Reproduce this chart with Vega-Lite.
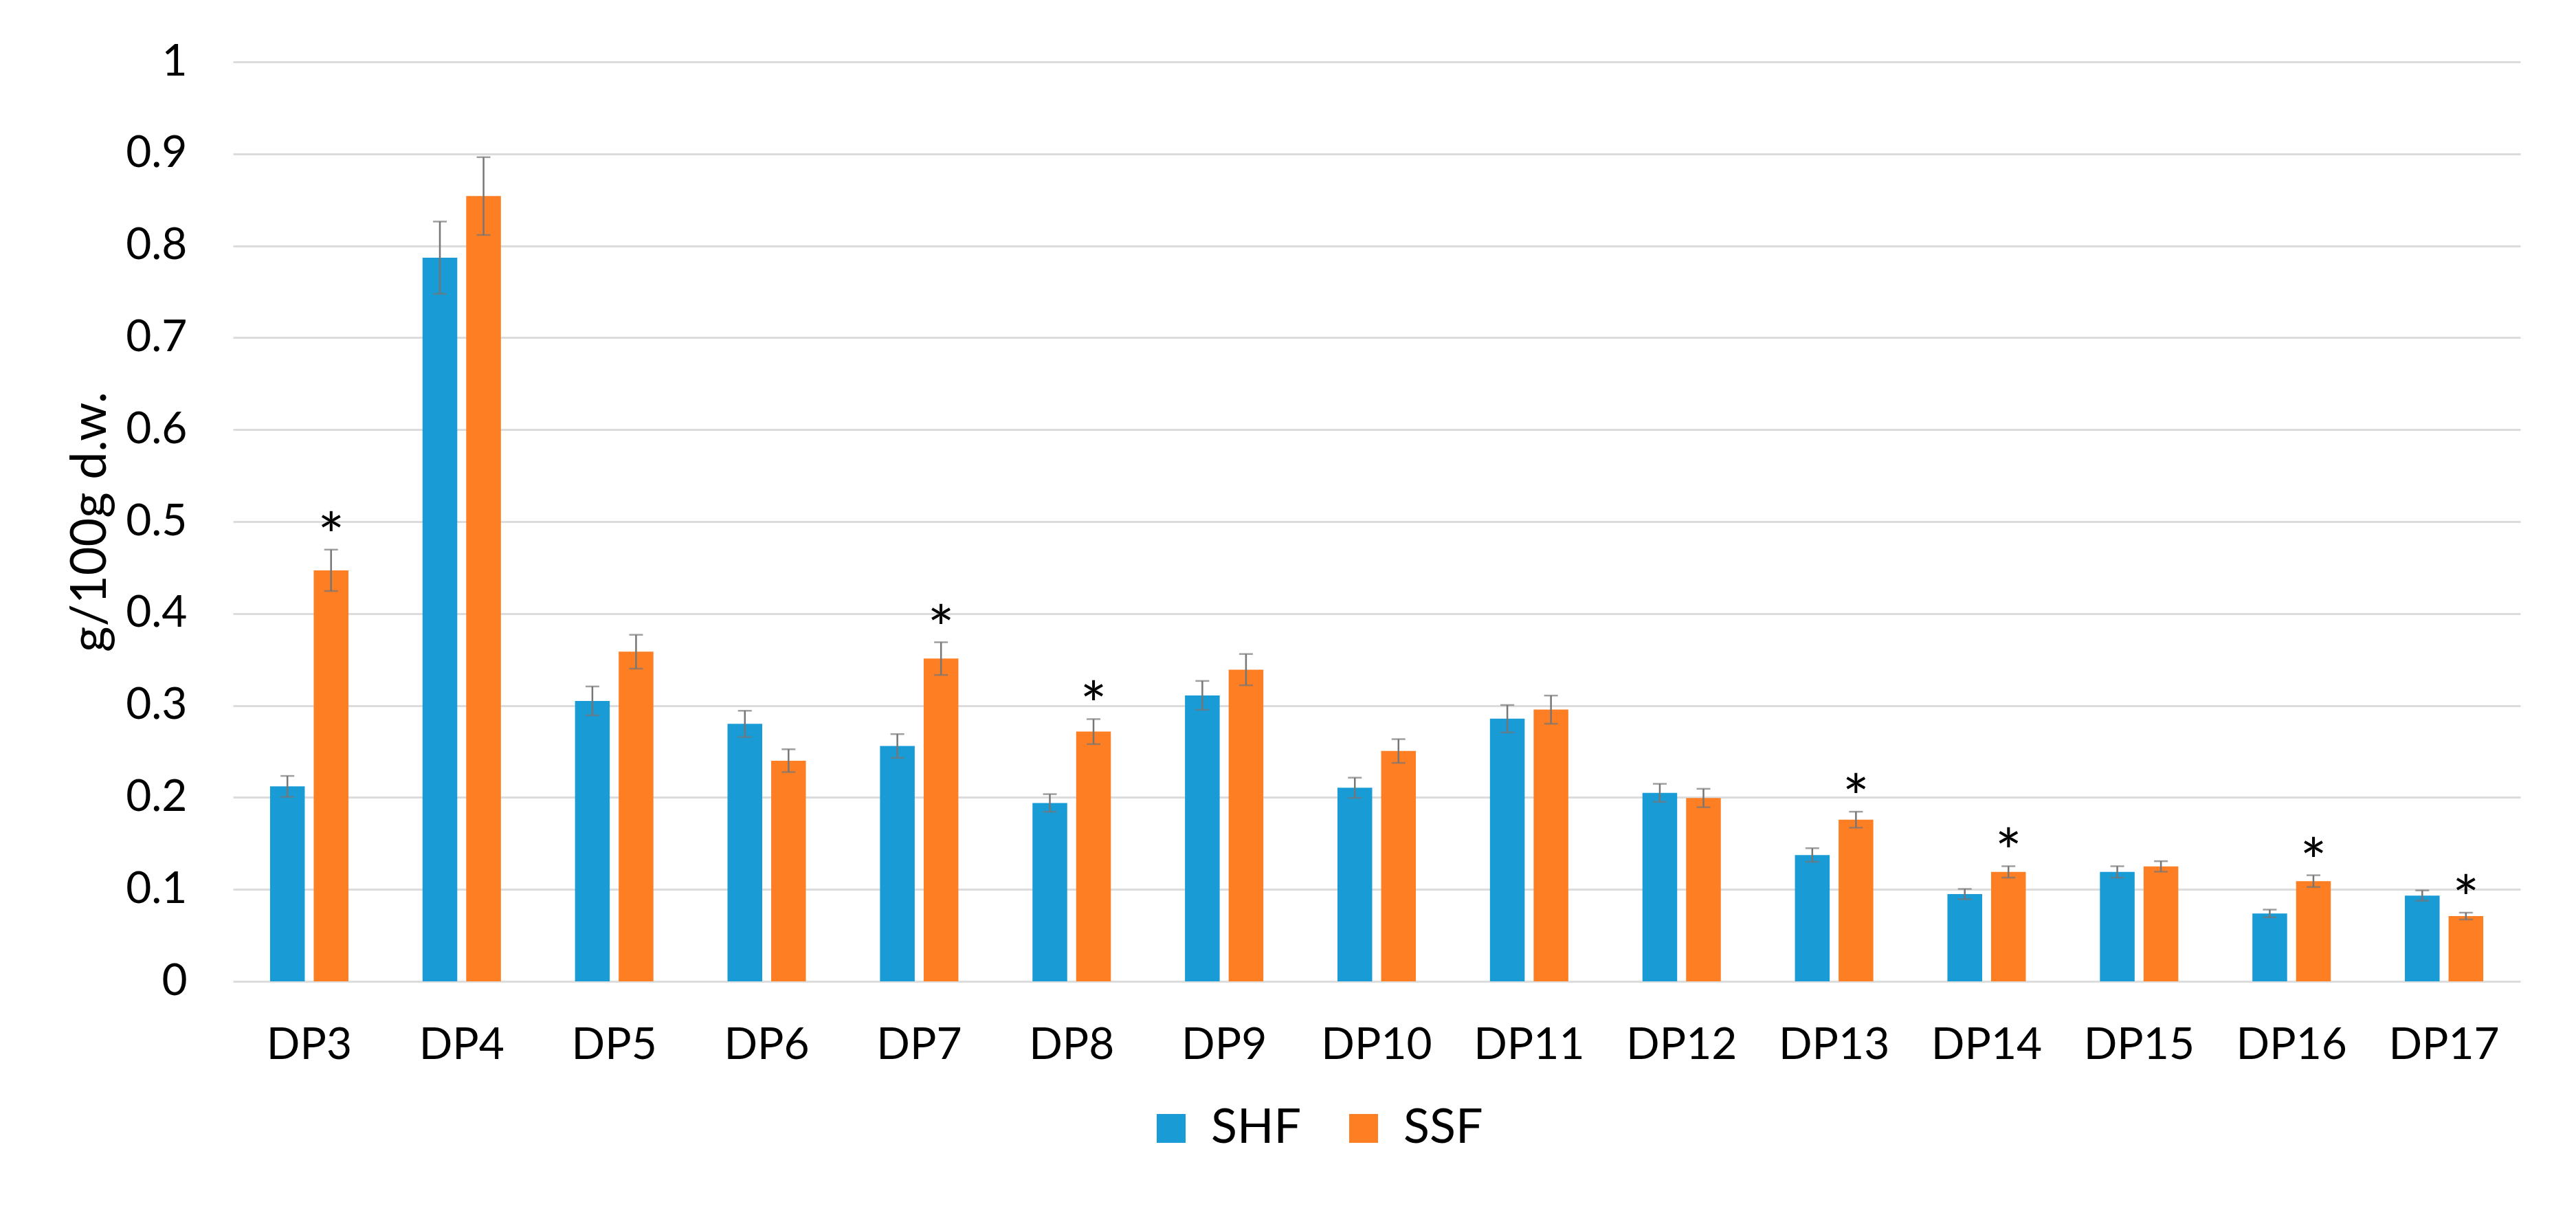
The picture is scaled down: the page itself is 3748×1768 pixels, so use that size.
{
  "$schema": "https://vega.github.io/schema/vega-lite/v6.json",
  "width": 3328,
  "height": 1338,
  "autosize": {"type": "none"},
  "padding": {"left": 339, "top": 90, "right": 81, "bottom": 340},
  "background": "white",
  "config": {"font": "Lato", "view": {"stroke": null}},
  "data": {
    "values": [
      {"dp": "DP3", "method": "SHF", "value": 0.212, "lo": 0.2006, "hi": 0.2234, "sig": ""},
      {"dp": "DP3", "method": "SSF", "value": 0.447, "lo": 0.4245, "hi": 0.4695, "sig": "*"},
      {"dp": "DP4", "method": "SHF", "value": 0.787, "lo": 0.7477, "hi": 0.8263, "sig": ""},
      {"dp": "DP4", "method": "SSF", "value": 0.854, "lo": 0.8117, "hi": 0.8963, "sig": ""},
      {"dp": "DP5", "method": "SHF", "value": 0.305, "lo": 0.2893, "hi": 0.3207, "sig": ""},
      {"dp": "DP5", "method": "SSF", "value": 0.3585, "lo": 0.3401, "hi": 0.3769, "sig": ""},
      {"dp": "DP6", "method": "SHF", "value": 0.28, "lo": 0.2657, "hi": 0.2943, "sig": ""},
      {"dp": "DP6", "method": "SSF", "value": 0.24, "lo": 0.2276, "hi": 0.2524, "sig": ""},
      {"dp": "DP7", "method": "SHF", "value": 0.256, "lo": 0.2431, "hi": 0.2689, "sig": ""},
      {"dp": "DP7", "method": "SSF", "value": 0.351, "lo": 0.3332, "hi": 0.3688, "sig": "*"},
      {"dp": "DP8", "method": "SHF", "value": 0.194, "lo": 0.1844, "hi": 0.2036, "sig": ""},
      {"dp": "DP8", "method": "SSF", "value": 0.2716, "lo": 0.258, "hi": 0.2852, "sig": "*"},
      {"dp": "DP9", "method": "SHF", "value": 0.311, "lo": 0.2953, "hi": 0.3267, "sig": ""},
      {"dp": "DP9", "method": "SSF", "value": 0.339, "lo": 0.322, "hi": 0.356, "sig": ""},
      {"dp": "DP10", "method": "SHF", "value": 0.2105, "lo": 0.1995, "hi": 0.2215, "sig": ""},
      {"dp": "DP10", "method": "SSF", "value": 0.2505, "lo": 0.2376, "hi": 0.2634, "sig": ""},
      {"dp": "DP11", "method": "SHF", "value": 0.2856, "lo": 0.2707, "hi": 0.3005, "sig": ""},
      {"dp": "DP11", "method": "SSF", "value": 0.2955, "lo": 0.2802, "hi": 0.3108, "sig": ""},
      {"dp": "DP12", "method": "SHF", "value": 0.205, "lo": 0.1952, "hi": 0.2148, "sig": ""},
      {"dp": "DP12", "method": "SSF", "value": 0.1994, "lo": 0.1894, "hi": 0.2094, "sig": ""},
      {"dp": "DP13", "method": "SHF", "value": 0.1374, "lo": 0.13, "hi": 0.1448, "sig": ""},
      {"dp": "DP13", "method": "SSF", "value": 0.1758, "lo": 0.1671, "hi": 0.1845, "sig": "*"},
      {"dp": "DP14", "method": "SHF", "value": 0.0949, "lo": 0.0893, "hi": 0.1005, "sig": ""},
      {"dp": "DP14", "method": "SSF", "value": 0.119, "lo": 0.1128, "hi": 0.1252, "sig": "*"},
      {"dp": "DP15", "method": "SHF", "value": 0.119, "lo": 0.1128, "hi": 0.1252, "sig": ""},
      {"dp": "DP15", "method": "SSF", "value": 0.125, "lo": 0.1193, "hi": 0.1307, "sig": ""},
      {"dp": "DP16", "method": "SHF", "value": 0.0738, "lo": 0.0696, "hi": 0.078, "sig": ""},
      {"dp": "DP16", "method": "SSF", "value": 0.109, "lo": 0.1026, "hi": 0.1154, "sig": "*"},
      {"dp": "DP17", "method": "SHF", "value": 0.0933, "lo": 0.0877, "hi": 0.0989, "sig": ""},
      {"dp": "DP17", "method": "SSF", "value": 0.071, "lo": 0.0673, "hi": 0.0747, "sig": "*"}
    ]
  },
  "encoding": {
    "x": {
      "field": "dp",
      "type": "nominal",
      "sort": ["DP3","DP4","DP5","DP6","DP7","DP8","DP9","DP10","DP11","DP12","DP13","DP14","DP15","DP16","DP17"],
      "scale": {"paddingInner": 0.486, "paddingOuter": 0.243},
      "axis": {
        "title": null,
        "labelAngle": 0,
        "labelFontSize": 64,
        "labelColor": "#000000",
        "labelBaseline": "alphabetic",
        "labelPadding": 112,
        "ticks": false,
        "tickSize": 0,
        "domain": false,
        "grid": false
      }
    },
    "xOffset": {
      "field": "method",
      "type": "nominal",
      "scale": {"paddingInner": 0.205, "paddingOuter": 0}
    }
  },
  "layer": [
    {
      "mark": {"type": "bar"},
      "encoding": {
        "y": {
          "field": "value",
          "type": "quantitative",
          "title": "g/100g d.w.",
          "scale": {"domain": [0, 1], "nice": false},
          "axis": {
            "values": [0, 0.1, 0.2, 0.3, 0.4, 0.5, 0.6, 0.7, 0.8, 0.9, 1],
            "format": "~g",
            "labelFontSize": 64,
            "labelColor": "#000000",
            "labelPadding": 67,
            "ticks": false,
            "domain": false,
            "grid": true,
            "gridColor": "#dcdcdc",
            "gridWidth": 3,
            "titleFontSize": 72,
            "titleFontWeight": "normal",
            "titleColor": "#000000",
            "titleAngle": -90,
            "titleAlign": "center",
            "titleBaseline": "alphabetic",
            "titleX": -186,
            "titleY": 669
          }
        },
        "color": {
          "field": "method",
          "type": "nominal",
          "scale": {"domain": ["SHF", "SSF"], "range": ["#199bd6", "#fd7e23"]},
          "legend": {
            "orient": "none",
            "legendX": 1330,
            "legendY": 1517,
            "direction": "horizontal",
            "title": null,
            "symbolType": "square",
            "symbolSize": 1764,
            "symbolStrokeWidth": 0,
            "labelFontSize": 70,
            "labelColor": "#000000",
            "labelOffset": 23,
            "columnPadding": 55
          }
        }
      }
    },
    {
      "mark": {"type": "rule", "color": "#767676", "strokeWidth": 2.5},
      "encoding": {
        "y": {"field": "lo", "type": "quantitative", "title": "g/100g d.w."},
        "y2": {"field": "hi"}
      }
    },
    {
      "mark": {"type": "tick", "color": "#767676", "thickness": 2.5, "size": 20},
      "encoding": {
        "y": {"field": "lo", "type": "quantitative", "title": "g/100g d.w."}
      }
    },
    {
      "mark": {"type": "tick", "color": "#767676", "thickness": 2.5, "size": 20},
      "encoding": {
        "y": {"field": "hi", "type": "quantitative", "title": "g/100g d.w."}
      }
    },
    {
      "mark": {"type": "text", "fontSize": 92, "baseline": "alphabetic", "dy": 12, "color": "#000000"},
      "encoding": {
        "y": {"field": "hi", "type": "quantitative", "title": "g/100g d.w."},
        "text": {"field": "sig"}
      }
    }
  ]
}
